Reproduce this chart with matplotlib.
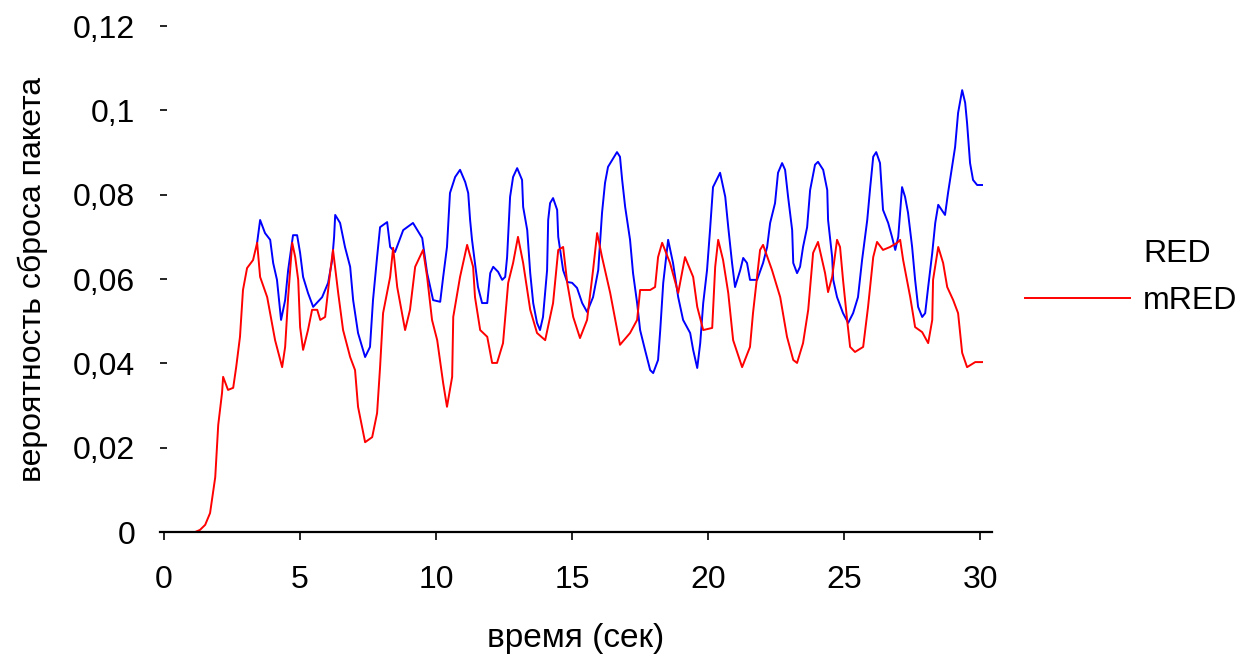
import numpy as np
import matplotlib
matplotlib.use("Agg")
import matplotlib.pyplot as plt

plt.rcParams['font.family'] = ['Liberation Sans', 'DejaVu Sans']

# mRED (red curve) - time in sec, drop probability
t_mred = [0.00, 1.14, 1.32, 1.51, 1.69, 1.88, 1.99, 2.13, 2.17, 2.35, 2.54, 2.65, 2.79, 2.90, 3.05, 3.27,
          3.42, 3.53, 3.79, 4.08, 4.34, 4.45, 4.56, 4.71, 4.82, 4.93, 5.00, 5.11, 5.29, 5.44, 5.63, 5.74,
          5.92, 6.10, 6.21, 6.40, 6.58, 6.84, 7.02, 7.13, 7.39, 7.65, 7.83, 7.94, 8.05, 8.31, 8.42, 8.57,
          8.86, 9.04, 9.23, 9.52, 9.67, 9.85, 10.04, 10.26, 10.40, 10.59, 10.63, 10.88, 11.14, 11.36, 11.43,
          11.62, 11.88, 12.06, 12.24, 12.46, 12.65, 12.83, 13.01, 13.20, 13.46, 13.71, 14.01, 14.30, 14.49,
          14.67, 14.82, 15.04, 15.29, 15.55, 15.77, 15.92, 16.10, 16.40, 16.76, 17.13, 17.39, 17.50, 17.87,
          18.05, 18.16, 18.31, 18.60, 18.90, 19.15, 19.45, 19.60, 19.82, 20.15, 20.26, 20.37, 20.55, 20.74,
          20.92, 21.25, 21.54, 21.65, 21.91, 22.02, 22.35, 22.65, 22.90, 23.13, 23.27, 23.49, 23.68, 23.86,
          24.04, 24.30, 24.41, 24.56, 24.74, 24.85, 24.96, 25.11, 25.22, 25.40, 25.70, 25.88, 26.07, 26.21,
          26.43, 26.69, 26.95, 27.06, 27.17, 27.43, 27.61, 27.87, 28.09, 28.24, 28.27, 28.46, 28.64, 28.79,
          29.01, 29.19, 29.34, 29.52, 29.82, 30.07]
p_mred = [0.0, 0.0, 0.0005, 0.0017, 0.0045, 0.0130, 0.0254, 0.0330, 0.0368, 0.0337, 0.0342, 0.0391, 0.0463,
          0.0574, 0.0626, 0.0645, 0.0686, 0.0605, 0.0557, 0.0455, 0.0391, 0.0439, 0.0557, 0.0686, 0.0652,
          0.0598, 0.0486, 0.0432, 0.0479, 0.0527, 0.0527, 0.0503, 0.0510, 0.0614, 0.0669, 0.0567, 0.0479,
          0.0415, 0.0384, 0.0297, 0.0213, 0.0225, 0.0282, 0.0391, 0.0519, 0.0605, 0.0674, 0.0581, 0.0479,
          0.0527, 0.0629, 0.0669, 0.0605, 0.0503, 0.0455, 0.0353, 0.0297, 0.0368, 0.0510, 0.0605, 0.0681,
          0.0629, 0.0557, 0.0479, 0.0463, 0.0401, 0.0401, 0.0448, 0.0591, 0.0638, 0.0700, 0.0638, 0.0527,
          0.0472, 0.0455, 0.0543, 0.0669, 0.0676, 0.0591, 0.0510, 0.0460, 0.0503, 0.0621, 0.0709, 0.0652,
          0.0567, 0.0444, 0.0472, 0.0503, 0.0574, 0.0574, 0.0581, 0.0652, 0.0686, 0.0638, 0.0567, 0.0652,
          0.0605, 0.0534, 0.0479, 0.0484, 0.0629, 0.0693, 0.0645, 0.0567, 0.0455, 0.0391, 0.0439, 0.0519,
          0.0669, 0.0681, 0.0621, 0.0557, 0.0463, 0.0408, 0.0401, 0.0448, 0.0527, 0.0662, 0.0688, 0.0614,
          0.0569, 0.0605, 0.0693, 0.0676, 0.0598, 0.0503, 0.0439, 0.0427, 0.0439, 0.0534, 0.0652, 0.0688,
          0.0669, 0.0676, 0.0686, 0.0693, 0.0645, 0.0557, 0.0486, 0.0474, 0.0448, 0.0503, 0.0598, 0.0676,
          0.0638, 0.0581, 0.0550, 0.0519, 0.0425, 0.0391, 0.0403, 0.0403]

# RED (blue curve)
t_red = [3.42, 3.53, 3.71, 3.90, 4.01, 4.15, 4.30, 4.45, 4.56, 4.74, 4.89, 5.00, 5.11, 5.29, 5.48, 5.81,
         6.03, 6.18, 6.25, 6.29, 6.47, 6.65, 6.84, 6.95, 7.13, 7.39, 7.57, 7.68, 7.83, 7.94, 8.20, 8.31,
         8.49, 8.79, 9.15, 9.49, 9.67, 9.89, 10.15, 10.26, 10.40, 10.51, 10.70, 10.88, 11.07, 11.18, 11.25,
         11.32, 11.43, 11.54, 11.69, 11.88, 11.99, 12.10, 12.28, 12.43, 12.54, 12.61, 12.72, 12.83, 12.98,
         13.16, 13.20, 13.35, 13.46, 13.57, 13.71, 13.82, 13.93, 14.08, 14.12, 14.19, 14.30, 14.45, 14.49,
         14.67, 14.82, 15.00, 15.18, 15.37, 15.55, 15.77, 15.96, 16.10, 16.21, 16.32, 16.47, 16.65, 16.76,
         16.84, 16.95, 17.13, 17.24, 17.39, 17.50, 17.68, 17.87, 17.98, 18.16, 18.24, 18.35, 18.53, 18.71,
         18.90, 19.08, 19.34, 19.45, 19.60, 19.71, 19.82, 19.96, 20.07, 20.18, 20.44, 20.63, 20.74, 20.88,
         20.99, 21.18, 21.29, 21.43, 21.54, 21.80, 22.02, 22.17, 22.28, 22.46, 22.57, 22.72, 22.83, 22.94,
         23.09, 23.13, 23.27, 23.38, 23.49, 23.64, 23.75, 23.93, 24.04, 24.23, 24.38, 24.41, 24.56, 24.60,
         24.74, 24.96, 25.15, 25.33, 25.51, 25.66, 25.85, 25.96, 26.07, 26.18, 26.32, 26.43, 26.62, 26.76,
         26.88, 26.99, 27.13, 27.24, 27.35, 27.50, 27.61, 27.72, 27.87, 27.98, 28.09, 28.24, 28.35, 28.46,
         28.71, 28.82, 28.97, 29.08, 29.19, 29.34, 29.45, 29.52, 29.63, 29.74, 29.89, 30.07]
p_red = [0.0686, 0.0740, 0.0709, 0.0693, 0.0638, 0.0598, 0.0503, 0.0550, 0.0621, 0.0704, 0.0704, 0.0662,
         0.0605, 0.0567, 0.0534, 0.0557, 0.0591, 0.0645, 0.0700, 0.0752, 0.0733, 0.0676, 0.0629, 0.0550,
         0.0472, 0.0415, 0.0439, 0.0550, 0.0652, 0.0723, 0.0735, 0.0676, 0.0664, 0.0716, 0.0733, 0.0697,
         0.0614, 0.0550, 0.0546, 0.0605, 0.0676, 0.0804, 0.0842, 0.0859, 0.0830, 0.0804, 0.0740, 0.0693,
         0.0638, 0.0581, 0.0543, 0.0543, 0.0614, 0.0629, 0.0617, 0.0598, 0.0605, 0.0652, 0.0795, 0.0842,
         0.0863, 0.0835, 0.0771, 0.0716, 0.0614, 0.0543, 0.0496, 0.0479, 0.0510, 0.0621, 0.0740, 0.0780,
         0.0792, 0.0764, 0.0700, 0.0621, 0.0593, 0.0591, 0.0579, 0.0543, 0.0522, 0.0557, 0.0621, 0.0757,
         0.0828, 0.0866, 0.0882, 0.0901, 0.0890, 0.0835, 0.0771, 0.0693, 0.0614, 0.0543, 0.0479, 0.0432,
         0.0384, 0.0377, 0.0408, 0.0479, 0.0591, 0.0693, 0.0638, 0.0557, 0.0503, 0.0472, 0.0432, 0.0389,
         0.0448, 0.0543, 0.0621, 0.0716, 0.0818, 0.0852, 0.0795, 0.0723, 0.0638, 0.0581, 0.0621, 0.0650,
         0.0638, 0.0598, 0.0598, 0.0638, 0.0676, 0.0733, 0.0780, 0.0852, 0.0875, 0.0859, 0.0795, 0.0716,
         0.0638, 0.0614, 0.0629, 0.0676, 0.0723, 0.0811, 0.0871, 0.0878, 0.0859, 0.0811, 0.0740, 0.0652,
         0.0598, 0.0557, 0.0519, 0.0496, 0.0519, 0.0557, 0.0645, 0.0740, 0.0818, 0.0890, 0.0901, 0.0875,
         0.0764, 0.0733, 0.0700, 0.0669, 0.0700, 0.0818, 0.0795, 0.0757, 0.0676, 0.0598, 0.0534, 0.0510,
         0.0519, 0.0581, 0.0662, 0.0733, 0.0776, 0.0752, 0.0804, 0.0866, 0.0913, 0.0994, 0.1048, 0.1018,
         0.0970, 0.0875, 0.0835, 0.0823, 0.0823]

x_ticks = [0, 5, 10, 15, 20, 25, 30]
y_ticks = [0, 0.02, 0.04, 0.06, 0.08, 0.1, 0.12]
y_tick_labels = ['0', '0,02', '0,04', '0,06', '0,08', '0,1', '0,12']

fig = plt.figure(figsize=(12.59, 6.56), dpi=100)
ax = fig.add_axes([0.1271, 0.1890, 0.6609, 0.7713])

ln_red, = ax.plot(t_red, p_red, color='#0000ff', lw=1.4, label='RED')
ln_mred, = ax.plot(t_mred, p_mred, color='#ff0000', lw=1.4, label='mRED')

ax.set_xlim(-0.15, 30.44)
ax.set_ylim(0, 0.12)
ax.set_xticks(x_ticks)
ax.set_yticks(y_ticks)
ax.set_yticklabels(y_tick_labels)

for s in ['top', 'right', 'left']:
    ax.spines[s].set_visible(False)
ax.spines['bottom'].set_linewidth(1.6)

ax.tick_params(axis='x', direction='out', length=6, width=1.2, pad=18, labelsize=23)
ax.tick_params(axis='y', direction='in', length=5, width=1.2, pad=18, labelsize=23)

ax.set_xlabel('время (сек)', fontsize=24, labelpad=20)
ax.set_ylabel('вероятность сброса пакета', fontsize=23, labelpad=18)

leg = fig.legend(handles=[ln_red, ln_mred], loc='center left', bbox_to_anchor=(0.814, 0.577),
                 frameon=False, fontsize=23, handlelength=3.3, handletextpad=0.4,
                 labelspacing=0.55, borderpad=0, borderaxespad=0)
# the RED entry has no visible line sample in the original
leg.legend_handles[0].set_visible(False)

fig.savefig('out.png', dpi=100)
